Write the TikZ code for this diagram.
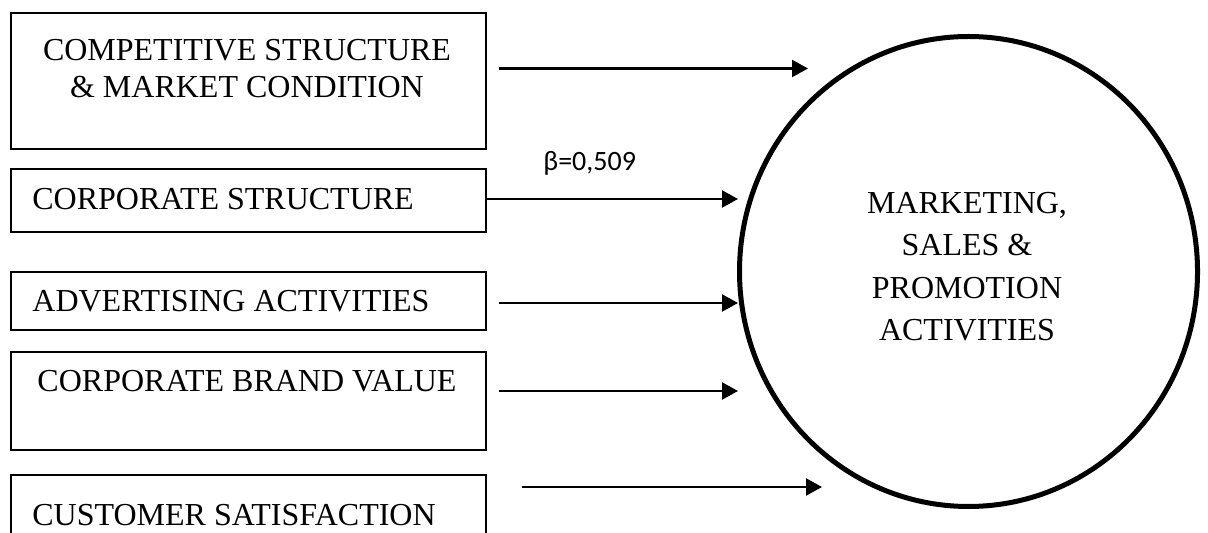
\documentclass[tikz,border=0pt]{standalone}
\usepackage{fontspec}
\setmainfont{Liberation Serif}
\newfontfamily\betafont{Carlito}
\usetikzlibrary{arrows.meta,shapes.geometric}
\begin{document}
\begin{tikzpicture}[x=0.5pt,y=-0.5pt,
  factor/.style={draw, line width=0.9pt, minimum width=237.5pt, inner sep=0pt, anchor=north west},
  factor text/.style={font=\fontsize{16}{18.5}\selectfont, inner sep=0pt},
  link/.style={line width=1.1pt, -{Triangle[length=8pt,width=8.5pt]}},
]
\fill[white] (0,0) rectangle (1208,533);
\clip (0,0) rectangle (1208,533);

% factor boxes
\node[factor, minimum height=68pt]   (b1) at (10,12)  {};
\node[factor, minimum height=31.5pt] (b2) at (10,168) {};
\node[factor, minimum height=29pt]   (b3) at (10,271) {};
\node[factor, minimum height=49pt]   (b4) at (10,351) {};
\node[factor, minimum height=100pt]  (b5) at (10,474) {};

% box labels
\node[factor text, anchor=north, align=center] (t1) at (247,39)
  {COMPETITIVE STRUCTURE\\\& MARKET CONDITION};
\node[factor text, anchor=base west] (t2) at (32,210) {CORPORATE STRUCTURE};
\node[factor text, anchor=base west] (t3) at (32,312) {ADVERTISING ACTIVITIES};
\node[factor text, anchor=base]      (t4) at (247,392) {CORPORATE BRAND VALUE};
\node[factor text, anchor=base west] (t5) at (32,525) {CUSTOMER SATISFACTION};

% outcome circle
\node[draw, ellipse, line width=2.5pt, minimum width=229pt, minimum height=235pt, inner sep=0pt] (c) at (968.5,271.5) {};
\node[font=\fontsize{16}{21.2}\selectfont, align=center, inner sep=0pt] (ct) at (967,266.5)
  {MARKETING,\\SALES \&\\PROMOTION\\ACTIVITIES};

% path coefficient
\node[font=\betafont\fontsize{14}{16}\selectfont, anchor=base west, inner sep=0pt] (beta) at (543,171) {β=0,509};

% arrows
\coordinate (s1) at (499,68.5); \coordinate (e1) at (808,68.5);
\coordinate (s2) at (485,199);  \coordinate (e2) at (738,199);
\coordinate (s3) at (499,303);  \coordinate (e3) at (738,303);
\coordinate (s4) at (499,391);  \coordinate (e4) at (738,391);
\coordinate (s5) at (522,487);  \coordinate (e5) at (822,487);
\draw[link] (s1) -- (e1);
\draw[link] (s2) -- (e2);
\draw[link] (s3) -- (e3);
\draw[link] (s4) -- (e4);
\draw[link] (s5) -- (e5);
\end{tikzpicture}
\end{document}
